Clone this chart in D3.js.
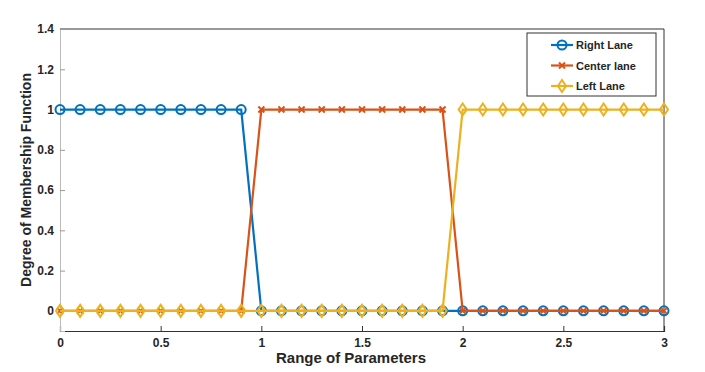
<!DOCTYPE html>
<html>
<head>
<meta charset="utf-8">
<script src="https://cdn.jsdelivr.net/npm/d3@7"></script>
<style>
  body { margin: 0; background: #fff; }
  text { font-family: "Liberation Sans", Arial, sans-serif; }
</style>
</head>
<body>
<div class="chart"></div>
<script>
const xValues = [0,0.1,0.2,0.3,0.4,0.5,0.6,0.7,0.8,0.9,1,1.1,1.2,1.3,1.4,1.5,1.6,1.7,1.8,1.9,2,2.1,2.2,2.3,2.4,2.5,2.6,2.7,2.8,2.9,3]
const rightLane = [1,1,1,1,1,1,1,1,1,1,0,0,0,0,0,0,0,0,0,0,0,0,0,0,0,0,0,0,0,0,0]
const centerLane = [0,0,0,0,0,0,0,0,0,0,1,1,1,1,1,1,1,1,1,1,0,0,0,0,0,0,0,0,0,0,0]
const leftLane = [0,0,0,0,0,0,0,0,0,0,0,0,0,0,0,0,0,0,0,0,1,1,1,1,1,1,1,1,1,1,1]
const seriesNames = ['Right Lane', 'Center lane', 'Left Lane']
const xTicks = [0, 0.5, 1, 1.5, 2, 2.5, 3]
const yTicks = [0, 0.2, 0.4, 0.6, 0.8, 1, 1.2, 1.4]

const width = 705, height = 372
const margin = {top: 29, left: 60, right: 41, bottom: 41}

const svg = d3.select('.chart')
    .append('svg')
    .attr('width', width)
    .attr('height', height)

const x = d3.scaleLinear().domain([0, 3]).range([margin.left, width - margin.right])
const y = d3.scaleLinear().domain([-0.1, 1.4]).range([height - margin.bottom, margin.top])

const series = [
    {name: seriesNames[0], values: rightLane, color: '#0072BD', marker: 'circle'},
    {name: seriesNames[1], values: centerLane, color: '#D95319', marker: 'cross'},
    {name: seriesNames[2], values: leftLane, color: '#EDB120', marker: 'diamond'}
]

// box
svg.append('line')
    .attr('x1', x(0)).attr('x2', x(3)).attr('y1', y(1.4)).attr('y2', y(1.4))
    .attr('stroke', '#333')
svg.append('line')
    .attr('x1', x(3)).attr('x2', x(3)).attr('y1', y(1.4)).attr('y2', y(-0.1))
    .attr('stroke', '#333')

const xAxis = svg.append('g')
    .attr('transform', `translate(0,${y(-0.1)})`)
    .call(d3.axisBottom(x).tickValues(xTicks).tickSize(-5).tickPadding(7).tickFormat(d3.format('')))
xAxis.select('.domain').attr('stroke', '#333').attr('stroke-width', 1.2)
xAxis.selectAll('.tick line').attr('stroke', '#333')
xAxis.selectAll('text').attr('font-size', 12).attr('font-weight', 'bold').attr('fill', '#262626')

const yAxis = svg.append('g')
    .attr('transform', `translate(${x(0)},0)`)
    .call(d3.axisLeft(y).tickValues(yTicks).tickSize(-5).tickPadding(6).tickFormat(d3.format('')))
yAxis.select('.domain').attr('stroke', '#bbb')
yAxis.selectAll('.tick line').attr('stroke', '#999')
yAxis.selectAll('text').attr('font-size', 12).attr('font-weight', 'bold').attr('fill', '#262626')

svg.append('text')
    .attr('x', 351)
    .attr('y', 363)
    .attr('text-anchor', 'middle')
    .attr('font-size', 15)
    .attr('font-weight', 'bold')
    .attr('fill', '#262626')
    .text('Range of Parameters')

svg.append('text')
    .attr('transform', `translate(31,${(y(-0.1) + y(1.4)) / 2}) rotate(-90)`)
    .attr('text-anchor', 'middle')
    .attr('font-size', 14)
    .attr('font-weight', 'bold')
    .attr('fill', '#262626')
    .text('Degree of Membership Function')

const line = d3.line()
    .x((d, i) => x(xValues[i]))
    .y(d => y(d))

function drawMarker(g, type, color) {
    if (type === 'circle') {
        g.append('circle').attr('r', 4.5).attr('fill', 'none')
            .attr('stroke', color).attr('stroke-width', 2)
    } else if (type === 'cross') {
        g.append('path').attr('d', 'M-3,-3L3,3M-3,3L3,-3')
            .attr('stroke', color).attr('stroke-width', 2)
    } else {
        g.append('path').attr('d', 'M0,-6L4,0L0,6L-4,0Z').attr('fill', 'none')
            .attr('stroke', color).attr('stroke-width', 2)
    }
}

series.forEach(s => {
    svg.append('path')
        .datum(s.values)
        .attr('d', line)
        .attr('fill', 'none')
        .attr('stroke', s.color)
        .attr('stroke-width', 2.2)
    svg.selectAll(null)
        .data(s.values)
        .enter()
        .append('g')
        .attr('transform', (d, i) => `translate(${x(xValues[i])},${y(d)})`)
        .each(function() { drawMarker(d3.select(this), s.marker, s.color) })
})

// legend
const legend = svg.append('g')
legend.append('rect')
    .attr('x', 527).attr('y', 33).attr('width', 129).attr('height', 63)
    .attr('fill', '#fff').attr('stroke', '#333')
series.forEach((s, i) => {
    const ly = 45 + i * 20.5
    legend.append('line')
        .attr('x1', 551).attr('x2', 573).attr('y1', ly).attr('y2', ly)
        .attr('stroke', s.color).attr('stroke-width', 2.2)
    const g = legend.append('g').attr('transform', `translate(562,${ly})`)
    drawMarker(g, s.marker, s.color)
    legend.append('text')
        .attr('x', 576).attr('y', ly + 4)
        .attr('font-size', 11)
        .attr('font-weight', 'bold')
        .attr('fill', '#262626')
        .text(s.name)
})
</script>
</body>
</html>
